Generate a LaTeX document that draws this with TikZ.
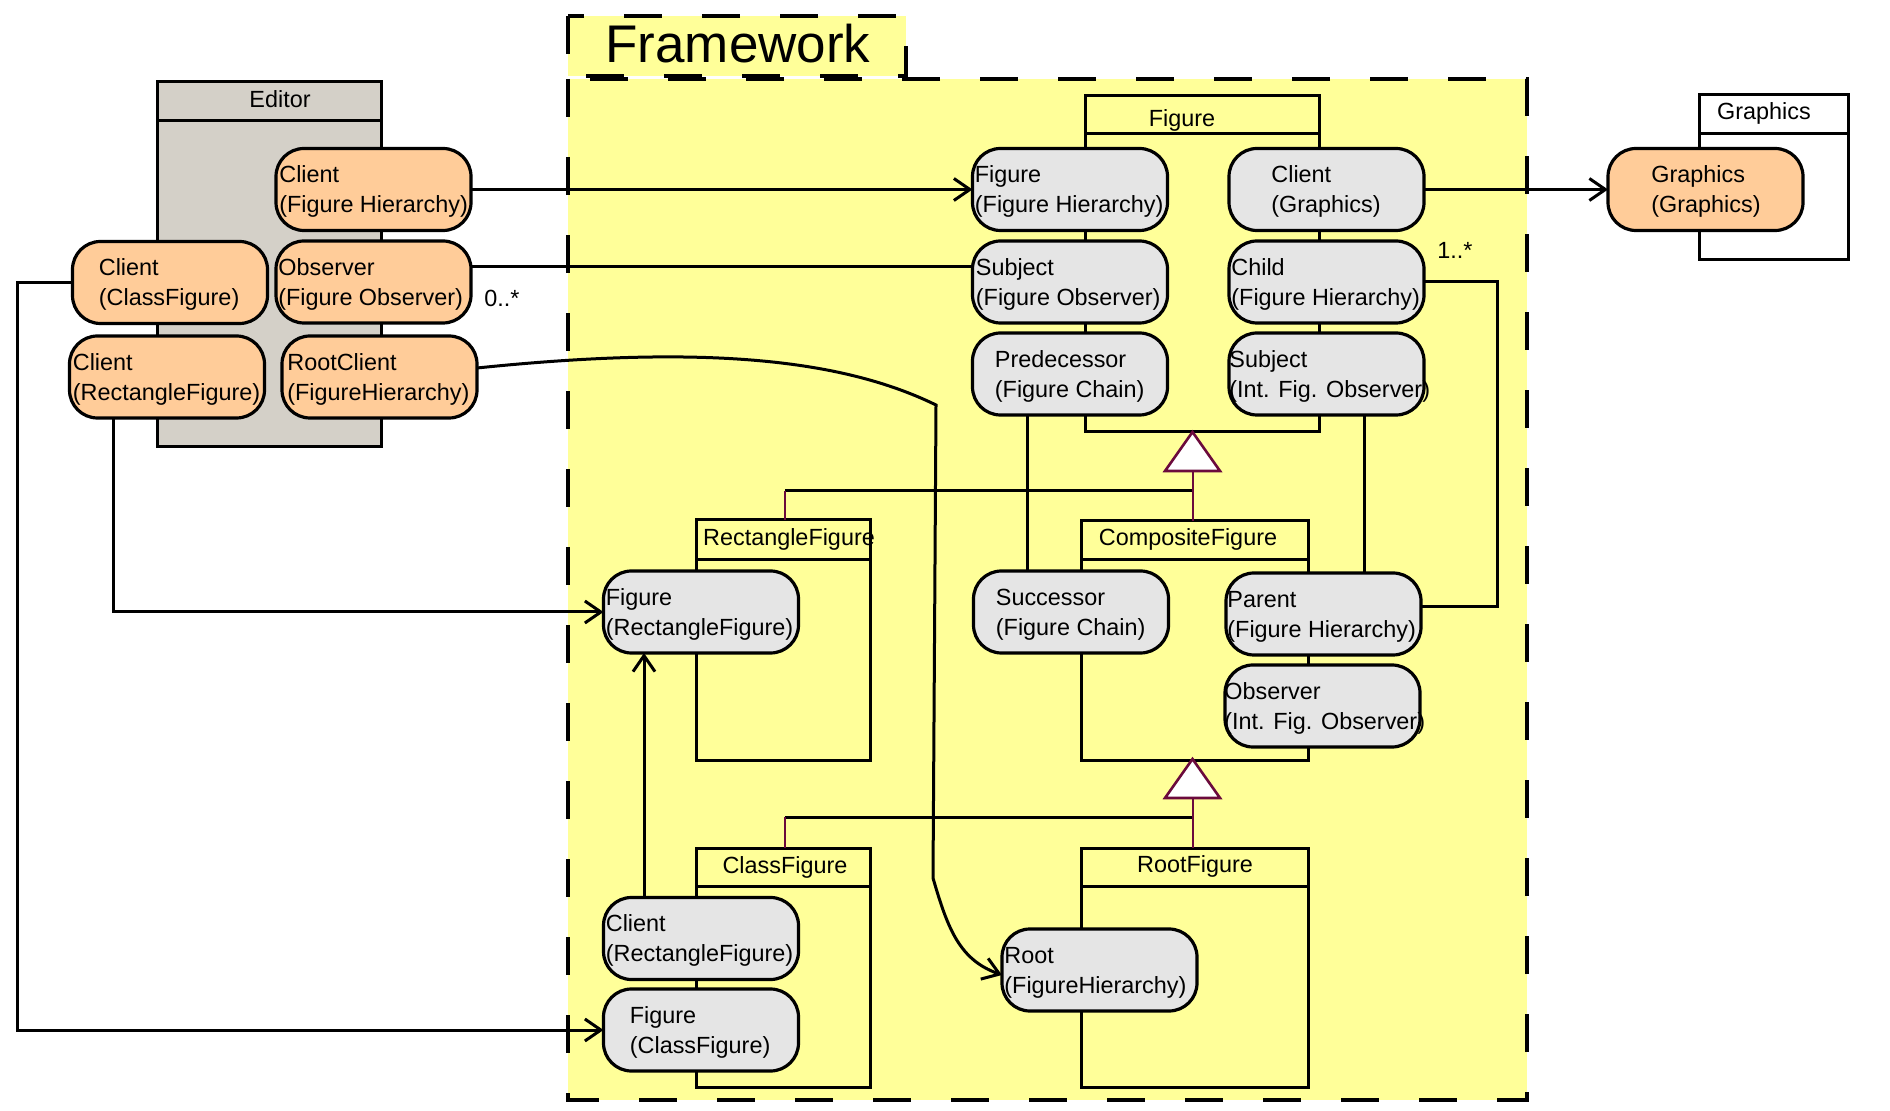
\documentclass[tikz,border=0pt]{standalone}
\usepackage{fontspec}
\setmainfont{Liberation Sans}
\usetikzlibrary{arrows.meta,calc}
\definecolor{fwyellow}{HTML}{FFFF99}
\definecolor{orangefill}{HTML}{FFCC99}
\definecolor{grayfill}{HTML}{E5E5E5}
\definecolor{editorfill}{HTML}{D4D0C8}
\definecolor{umlmaroon}{HTML}{6B0A3C}
\newcommand\rolefont{\fontsize{11.7}{15}\selectfont}
\newcommand\rolenode[6]{%
  \node[rolebox,#3] (#1) at #2 {};
  \node[roletext] (#1-t) at ([xshift=#4,yshift=-1.2pt]#1.west) {#5\\#6};
}
\tikzset{
  rolebox/.style={draw, line width=1.6pt, rounded corners=14pt, minimum width=97.5pt, minimum height=41pt, inner sep=0pt, outer sep=0pt},
  orangebox/.style={fill=orangefill},
  graybox/.style={fill=grayfill},
  roletext/.style={anchor=west, inner sep=0pt, align=left, font=\rolefont},
  classbox/.style={draw, line width=1.5pt, inner sep=0pt, outer sep=0pt},
  classline/.style={line width=1.5pt},
  classtitle/.style={anchor=base, inner sep=0pt, font=\rolefont},
  conn/.style={line width=1.5pt},
  arr/.style={conn, -{Straight Barb[length=8pt,width=11pt]}},
  gen/.style={draw=umlmaroon, line width=1pt},
  tri/.style={draw=umlmaroon, fill=white, line width=1.3pt, line join=miter},
  fw/.style={fill=fwyellow, draw, line width=1.8pt, dash pattern=on 19pt off 20pt},
  mult/.style={anchor=base west, inner sep=0pt, font=\rolefont},
}
\begin{document}
\begin{tikzpicture}[x=0.5pt,y=-0.5pt]
\useasboundingbox (0,0) rectangle (1890,1111);
% Framework package
\draw[fw] (568,79) rectangle (1527,1100);
\draw[fw] (568,16) rectangle (906,76);
\node[anchor=base, inner sep=0pt, font=\fontsize{26.5}{30}\selectfont] (fwtitle) at (738,63) {Framework};

% class boxes
\node[classbox, fill=editorfill, minimum width=112pt, minimum height=182.5pt] (editor) at (269,264.5) {};
\draw[classline] ([yshift=-19.5pt]editor.north west) -- ([yshift=-19.5pt]editor.north east);
\node[classtitle] (editor-t) at (280,108) {Editor};

\node[classbox, fill=white, minimum width=74.5pt, minimum height=82.5pt] (graphcls) at (1773.5,177.5) {};
\draw[classline] ([yshift=-19.5pt]graphcls.north west) -- ([yshift=-19.5pt]graphcls.north east);
\node[classtitle] (graphcls-t) at (1764,120) {Graphics};

\node[classbox, minimum width=117pt, minimum height=168pt] (figcls) at (1202,264) {};
\draw[classline] ([yshift=-19pt]figcls.north west) -- ([yshift=-19pt]figcls.north east);
\node[classtitle] (figcls-t) at (1182,127) {Figure};

\node[classbox, minimum width=87pt, minimum height=120.5pt] (rectcls) at (783,640.5) {};
\draw[classline] ([yshift=-20pt]rectcls.north west) -- ([yshift=-20pt]rectcls.north east);
\node[classtitle] (rectcls-t) at (789,546) {RectangleFigure};

\node[classbox, minimum width=113.5pt, minimum height=120pt] (compcls) at (1194.5,641) {};
\draw[classline] ([yshift=-19.5pt]compcls.north west) -- ([yshift=-19.5pt]compcls.north east);
\node[classtitle] (compcls-t) at (1188,546) {CompositeFigure};

\node[classbox, minimum width=87pt, minimum height=119.5pt] (classcls) at (783,967.5) {};
\draw[classline] ([yshift=-19pt]classcls.north west) -- ([yshift=-19pt]classcls.north east);
\node[classtitle] (classcls-t) at (785,873) {ClassFigure};

\node[classbox, minimum width=113.5pt, minimum height=119.5pt] (rootcls) at (1194.5,967.5) {};
\draw[classline] ([yshift=-19pt]rootcls.north west) -- ([yshift=-19pt]rootcls.north east);
\node[classtitle] (rootcls-t) at (1195,872) {RootFigure};

% generalisations
\coordinate (g1apex) at (1192.5,432);
\coordinate (g1base) at (1192.5,471);
\coordinate (h1) at (1192.5,491);
\coordinate (h1l) at (785,491);
\draw[conn] (h1l) -- (h1);
\draw[gen] (h1l) -- (h1l |- rectcls.north);
\draw[gen] (g1base) -- (g1base |- compcls.north);
\draw[tri] (g1apex) -- ++(27.5,39) -- ++(-55,0) -- cycle;

\coordinate (g2apex) at (1192.5,759);
\coordinate (g2base) at (1192.5,798);
\coordinate (h2) at (1192.5,817);
\coordinate (h2l) at (785,817);
\draw[conn] (h2l) -- (h2);
\draw[gen] (h2l) -- (h2l |- classcls.north);
\draw[gen] (g2base) -- (g2base |- rootcls.north);
\draw[tri] (g2apex) -- ++(27.5,39) -- ++(-55,0) -- cycle;

% role nodes
\rolenode{efh}{(373.5,189.5)}{orangebox}{1.5pt}{Client}{(Figure Hierarchy)}
\rolenode{ecc}{(170,282.5)}{orangebox}{13pt}{Client}{(ClassFigure)}
\rolenode{efo}{(373.5,282)}{orangebox}{1pt}{Observer}{(Figure Observer)}
\rolenode{erf}{(167,377)}{orangebox}{1.5pt}{Client}{(RectangleFigure)}
\rolenode{erc}{(379.5,377)}{orangebox}{2.5pt}{RootClient}{(FigureHierarchy)}
\rolenode{gg}{(1705.5,189.5)}{orangebox}{21.5pt}{Graphics}{(Graphics)}
\rolenode{ffh}{(1070,189.5)}{graybox}{1pt}{Figure}{(Figure Hierarchy)}
\rolenode{fcg}{(1326.5,189.5)}{graybox}{21pt}{Client}{(Graphics)}
\rolenode{fso}{(1070,282)}{graybox}{1.5pt}{Subject}{(Figure Observer)}
\rolenode{fch}{(1326.5,282)}{graybox}{1pt}{Child}{(Figure Hierarchy)}
\rolenode{fpre}{(1070,374)}{graybox}{11pt}{Predecessor}{(Figure Chain)}
\rolenode{fsi}{(1326.5,374)}{graybox}{0pt}{Subject}{(Int. Fig. Observer)}
\rolenode{csu}{(1071,612)}{graybox}{11pt}{Successor}{(Figure Chain)}
\rolenode{cpa}{(1323.5,614)}{graybox}{0.5pt}{Parent}{(Figure Hierarchy)}
\rolenode{cob}{(1322.5,706)}{graybox}{-0.5pt}{Observer}{(Int. Fig. Observer)}
\rolenode{rfig}{(701,612)}{graybox}{1pt}{Figure}{(RectangleFigure)}
\rolenode{ccl}{(701,938.5)}{graybox}{1pt}{Client}{(RectangleFigure)}
\rolenode{cfig}{(701,1030)}{graybox}{13pt}{Figure}{(ClassFigure)}
\rolenode{root}{(1099.5,970)}{graybox}{1pt}{Root}{(FigureHierarchy)}

% connectors
\draw[arr] (efh.east) -- (ffh.west);
\draw[conn] ([yshift=7.5pt]efo.east) -- ([yshift=7.5pt]fso.west);
\node[mult] (m0) at (484,307) {0..*};
\draw[arr] (fcg.east) -- (gg.west);
\draw[conn] (fch.east) -- ++(73,0) coordinate (cA) |- ([yshift=3.5pt]cpa.east);
\node[mult] (m1) at (1437,259) {1..*};
\draw[arr] (ecc.west) -- ++(-55.5,0) |- (cfig.west);
\draw[arr] ([xshift=-27pt]erf.south) |- (rfig.west);
\draw[arr] ([xshift=-28.5pt]ccl.north) -- ([xshift=-28.5pt]rfig.south);
\draw[conn] ([xshift=-21.5pt]fpre.south) -- ([xshift=-21.5pt]fpre.south |- csu.north);
\draw[conn] ([xshift=18.75pt]fsi.south) -- ([xshift=18.75pt]fsi.south |- cpa.north);
\coordinate (rcA) at (936,405);
\coordinate (rcB) at (933,878);
\draw[arr] ([yshift=4.5pt]erc.east) .. controls (700,345) and (840,358) .. (rcA) -- (rcB) .. controls (948,930) and (960,960) .. ([yshift=-2.5pt]root.west);
\end{tikzpicture}
\end{document}
